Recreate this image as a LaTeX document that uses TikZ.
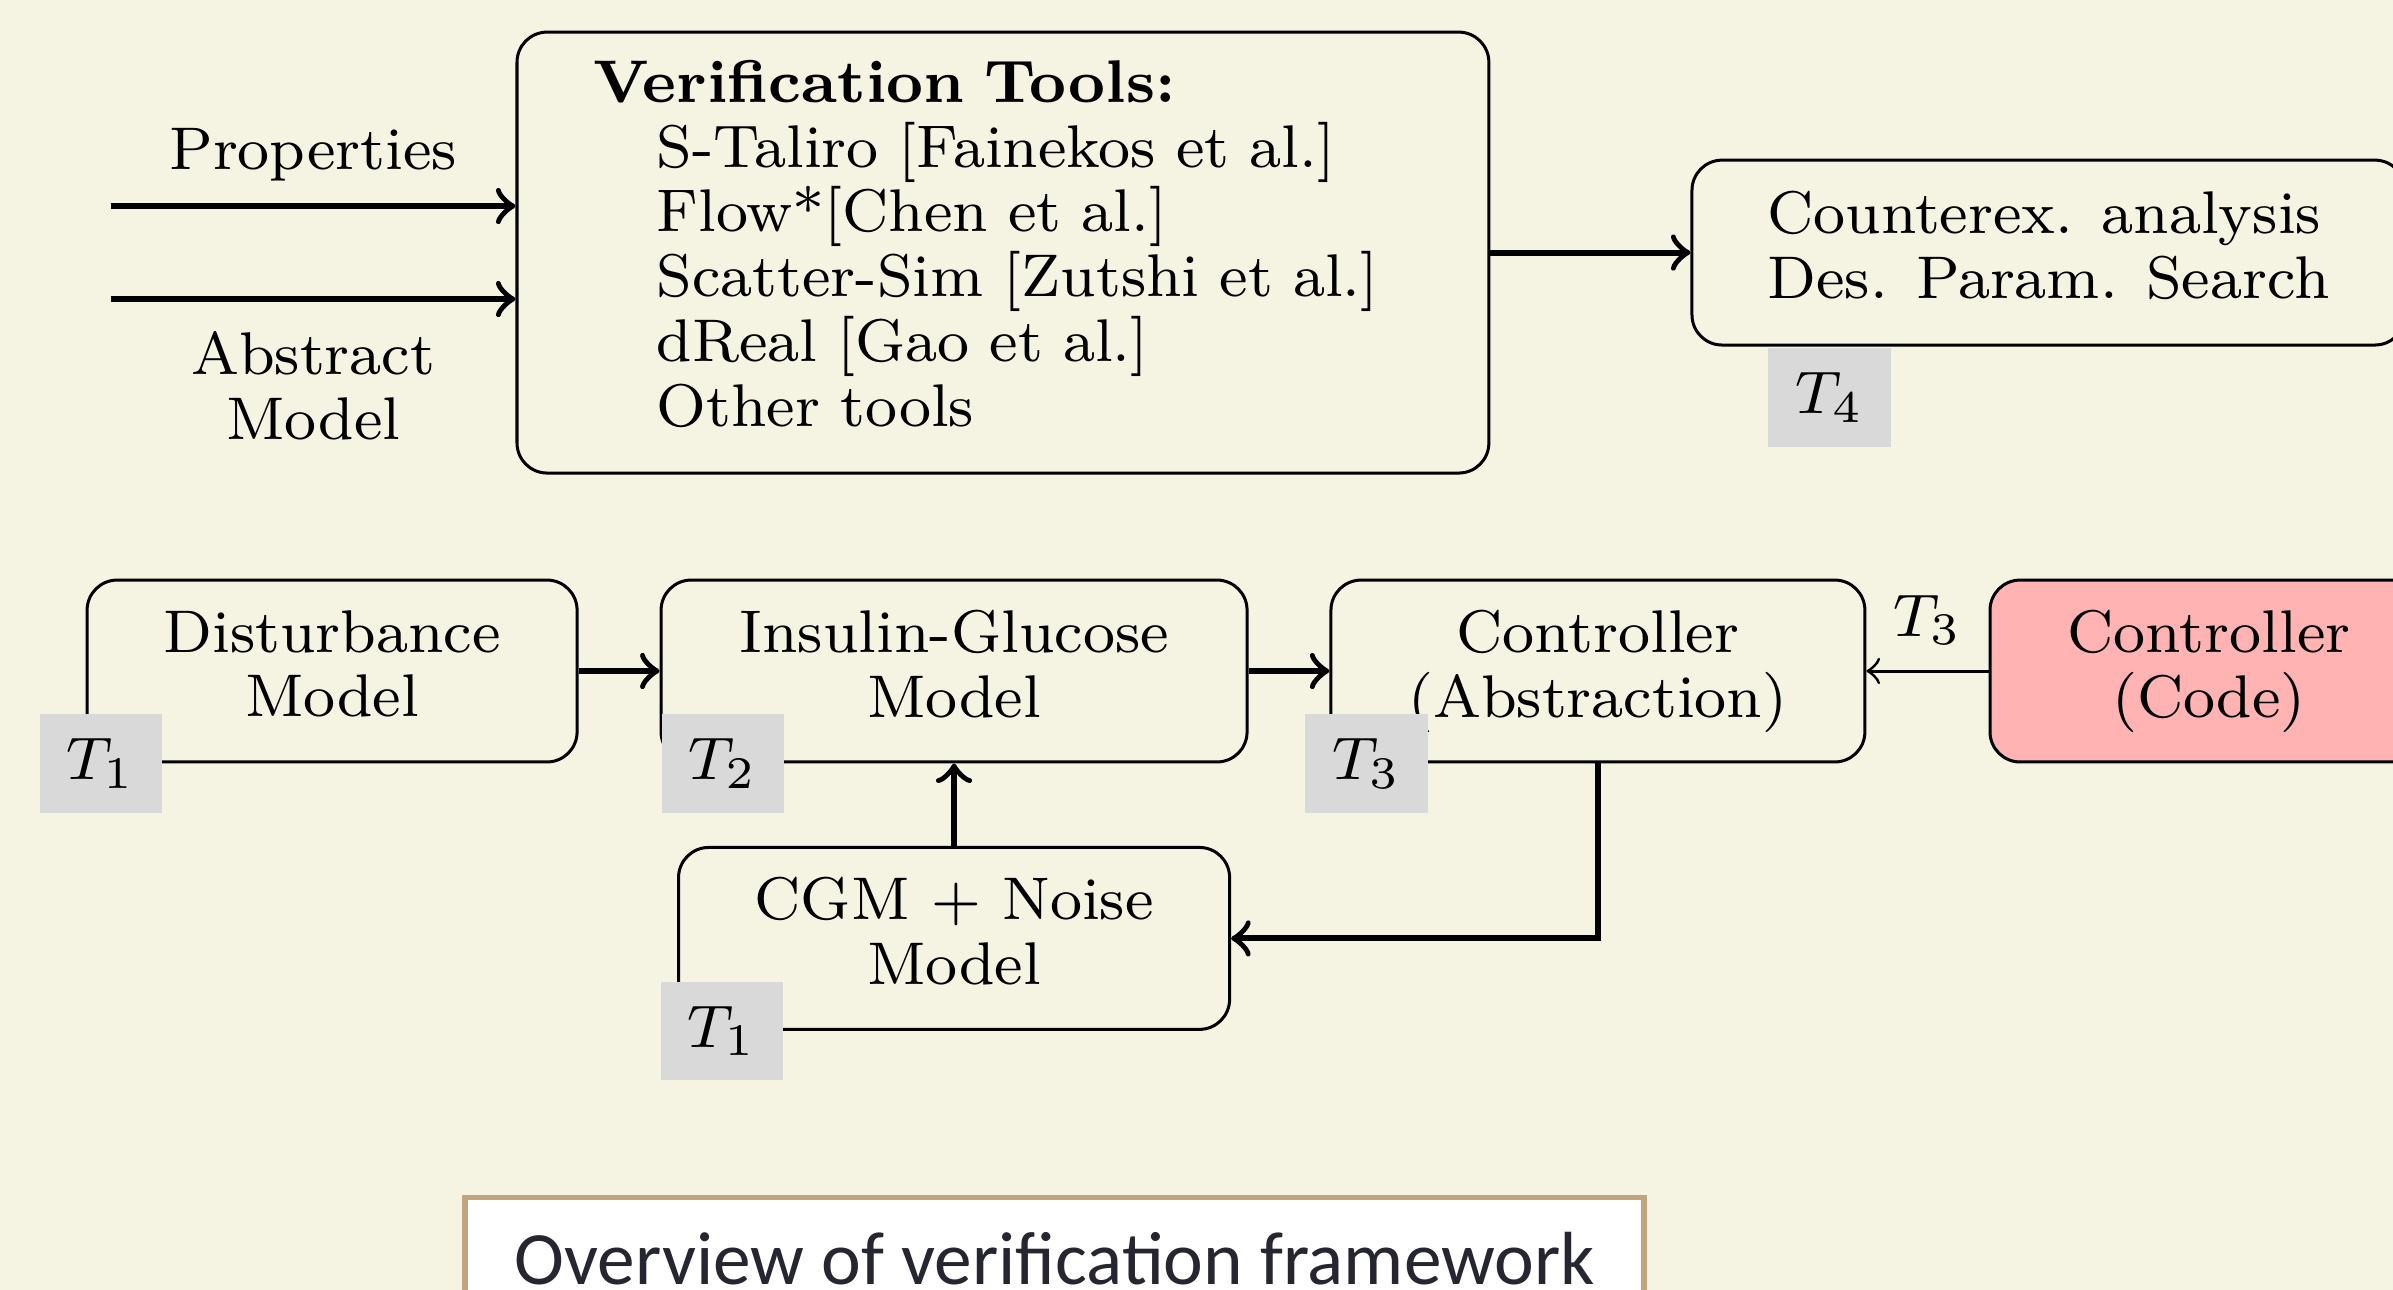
\documentclass[tikz,border=0pt]{standalone}
\usepackage{amsmath}
\usepackage{fontspec}
\usepackage{tikz}
\newfontfamily\capfont{Carlito}
\definecolor{bgcol}{RGB}{245,244,227}
\definecolor{tgray}{RGB}{217,217,217}
\definecolor{codepink}{RGB}{255,179,179}
\definecolor{captan}{RGB}{195,165,125}
\definecolor{captext}{RGB}{38,38,48}

\begin{document}
\begin{tikzpicture}[font=\fontsize{8}{8.6}\selectfont,
        box/.style={draw,rounded corners=4pt,minimum height=0.849cm,align=center,
          execute at end node={\rule[-2pt]{0pt}{0pt}}},
        tlab/.style={fill=tgray,minimum width=0.57cm,minimum height=0.46cm,inner sep=0pt}]
      \useasboundingbox (0,0) rectangle (11.169,-6.021);
      \fill[bgcol] (0,0) rectangle (11.169,-6.021);

      \node [box,align=left,text width=3.822cm,inner xsep=0.357cm,minimum height=2.058cm] (1) at (4.681,-1.179)
        {\textbf{Verification Tools:}\\
         \hspace*{1.05em}S-Taliro [Fainekos et al.]\\
         \hspace*{1.05em}Flow*[Chen et al.]\\
         \hspace*{1.05em}Scatter-Sim [Zutshi et al.]\\
         \hspace*{1.05em}dReal [Gao et al.]\\
         \hspace*{1.05em}Other tools\rule[-2.5pt]{0pt}{0pt}};
      \node [box,align=left,right of=1,xshift=3.88cm,minimum width=3.328cm,minimum height=0.863cm] (2)
        {Counterex. analysis\\Des. Param. Search};
      \node [tlab,anchor=north,xshift=0.649cm] (l2) at (2.south west) {$T_4$};

      \coordinate (p) at (0.518,-0.962);
      \coordinate (a) at (0.518,-1.396);
      \draw[->,thick] (p) -- node[above,inner ysep=2.9pt] {Properties} (p -| 1.west);
      \draw[->,thick] (a) -- node[below=0.6pt,align=center] {Abstract\\Model} (a -| 1.west);
      \draw[->,thick] (1) -- (2);

      \node [box,minimum width=2.287cm] (3) at (1.550,-3.132) {Disturbance\\Model};
      \node [box,right of=3,xshift=1.903cm,minimum width=2.735cm] (4) {Insulin-Glucose\\Model};
      \node [box,right of=4,xshift=2.005cm,minimum width=2.492cm] (5) {Controller\\(Abstraction)};
      \node [box,fill=codepink,right of=5,xshift=1.852cm,minimum width=2.044cm] (6) {Controller\\(Code)};
      \node [box,below of=4,yshift=-0.248cm,minimum width=2.572cm] (7) {CGM + Noise\\Model};

      \node [tlab,xshift=0.07cm] (l3) at (3.south west) {$T_1$};
      \node [tlab,xshift=0.294cm] (l4) at (4.south west) {$T_2$};
      \node [tlab,xshift=0.173cm] (l5) at (5.south west) {$T_3$};
      \node [tlab,xshift=0.21cm] (l7) at (7.south west) {$T_1$};

      \draw[->,thick] (3) -- (4);
      \draw[->,thick] (4) -- (5);
      \draw[->] (6) -- node[above] {$T_3$} (5);
      \draw[->,thick] (5) |- (7);
      \draw[->,thick] (7) -- (4);

      \node [draw=captan,line width=0.7pt,fill=white,text=captext,font=\capfont\fontsize{10}{12}\selectfont,
        minimum width=5.503cm,text height=7pt,text depth=4pt,inner ysep=4.5pt,anchor=north] (8)
        at (4.922,-5.578) {Overview of verification framework};
    \end{tikzpicture}
\end{document}
